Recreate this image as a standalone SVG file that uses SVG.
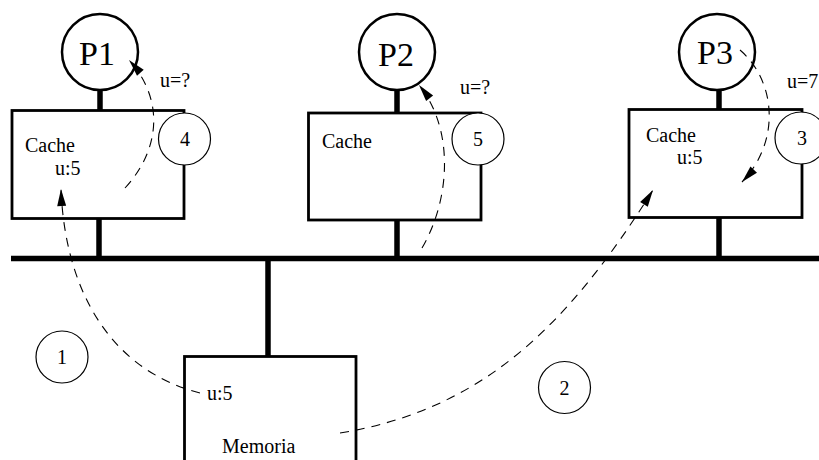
<svg xmlns="http://www.w3.org/2000/svg" width="819" height="460" viewBox="0 0 819 460">
<defs>
<marker id="ah" markerUnits="userSpaceOnUse" markerWidth="18" markerHeight="10" refX="17" refY="4.5" orient="auto" overflow="visible">
<path d="M0,0 L17,4.5 L0,9 Z" fill="#000"/>
</marker>
<style>
text{font-family:"Liberation Serif","Times New Roman",serif;fill:#000}
.pc{fill:#fff;stroke:#000;stroke-width:2.5}
.box{fill:#fff;stroke:#000;stroke-width:2.8}
.stem{stroke:#000;stroke-width:5.5;fill:none}
.num{fill:#fff;stroke:#000;stroke-width:1.2}
.pl{font-size:34px;text-anchor:middle}
.t{font-size:20px}
.n{font-size:20px;text-anchor:middle}
.dash{fill:none;stroke:#000;stroke-width:1.1;stroke-dasharray:9 7;marker-end:url(#ah)}
</style>
</defs>
<rect width="819" height="460" fill="#fff"/>
<g id="bus">
<line class="stem" x1="11" y1="258.5" x2="819" y2="258.5"/>
<line class="stem" x1="99" y1="219" x2="99" y2="258"/>
<line class="stem" x1="397" y1="220" x2="397" y2="258"/>
<line class="stem" x1="719" y1="217" x2="719" y2="258"/>
<line class="stem" x1="268" y1="258" x2="268" y2="356"/>
<line class="stem" x1="100" y1="90" x2="100" y2="110"/>
<line class="stem" x1="397" y1="90" x2="397" y2="113"/>
<line class="stem" x1="719" y1="90" x2="719" y2="109"/>
</g>
<g id="P1"><circle class="pc" cx="100" cy="52" r="38"/><text class="pl" x="97" y="65">P1</text></g>
<g id="P2"><circle class="pc" cx="397" cy="52" r="38"/><text class="pl" x="396" y="66">P2</text></g>
<g id="P3"><circle class="pc" cx="717" cy="52" r="38"/><text class="pl" x="715" y="64">P3</text></g>
<g id="cache1"><rect class="box" x="12" y="110.5" width="172" height="108"/><text class="t" x="25" y="152">Cache</text><text class="t" x="55" y="175">u:5</text></g>
<g id="cache2"><rect class="box" x="308.5" y="113" width="172.5" height="107"/><text class="t" x="322" y="148">Cache</text></g>
<g id="cache3"><rect class="box" x="629" y="109.5" width="173" height="108"/><text class="t" x="646" y="142">Cache</text><text class="t" x="677" y="164">u:5</text></g>
<g id="memoria"><rect class="box" x="184.5" y="356.5" width="171.5" height="120"/><text class="t" x="207" y="400">u:5</text><text class="t" x="222" y="453">Memoria</text></g>
<g id="connectors">
<path class="dash" d="M200,393 C110,370 65,290 61,189"/>
<path class="dash" d="M340,433 C480,410 565,330 653,190"/>
<path class="dash" d="M740,50 C775,80 782,140 742,182"/>
<path class="dash" d="M125,188 C160,150 165,100 129,60"/>
<path class="dash" d="M422,248 C450,200 455,130 419,85"/>
</g>
<g id="labels">
<text class="t" x="160" y="87">u=?</text>
<text class="t" x="460" y="94">u=?</text>
<text class="t" x="787" y="88">u=7</text>
</g>
<g id="step4"><circle class="num" cx="184.5" cy="139" r="26"/><text class="n" x="185" y="146">4</text></g>
<g id="step5"><circle class="num" cx="478" cy="139" r="26"/><text class="n" x="478" y="146">5</text></g>
<g id="step3"><circle class="num" cx="801" cy="138" r="26"/><text class="n" x="802" y="145">3</text></g>
<g id="step1"><circle class="num" cx="62" cy="357" r="26"/><text class="n" x="62" y="364">1</text></g>
<g id="step2"><circle class="num" cx="564.5" cy="387.5" r="26"/><text class="n" x="564.5" y="394.5">2</text></g>
</svg>
